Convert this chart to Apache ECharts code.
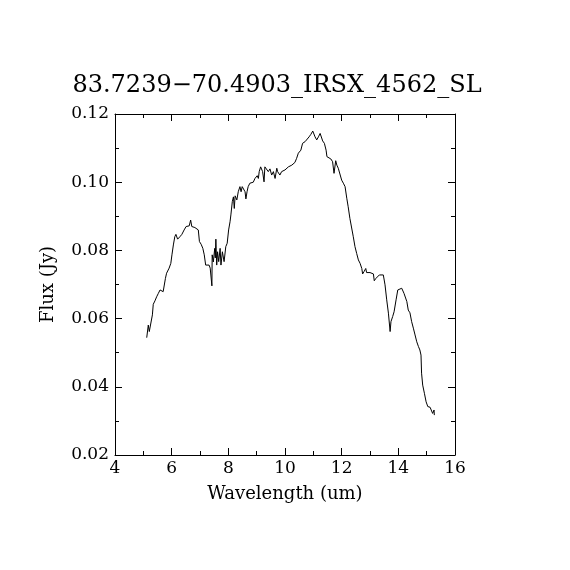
<!DOCTYPE html>
<html>
<head>
<meta charset="utf-8">
<script src="https://cdn.jsdelivr.net/npm/echarts@6/dist/echarts.min.js"></script>
<style>html,body{margin:0;padding:0;background:#fff}#c{width:570px;height:570px}</style>
</head>
<body>
<div id="c"></div>
<script>
var titleText = "83.7239\u221270.4903_IRSX_4562_SL";
var xTicks = [4, 6, 8, 10, 12, 14, 16];
var yTicks = [0.02, 0.04, 0.06, 0.08, 0.10, 0.12];
var wavelength = [5.12,5.175,5.21,5.27,5.32,5.35,5.41,5.47,5.53,5.59,5.65,5.70,5.78,5.82,5.91,5.97,6.01,6.06,6.11,6.15,6.21,6.29,6.36,6.44,6.51,6.57,6.62,6.67,6.71,6.76,6.82,6.88,6.94,6.98,7.04,7.10,7.15,7.20,7.26,7.32,7.36,7.42,7.43,7.47,7.52,7.54,7.56,7.59,7.62,7.66,7.71,7.74,7.79,7.85,7.91,7.96,8.01,8.06,8.09,8.14,8.18,8.21,8.24,8.30,8.35,8.41,8.45,8.49,8.55,8.59,8.62,8.66,8.70,8.76,8.82,8.88,8.94,8.97,9.02,9.06,9.09,9.14,9.18,9.21,9.26,9.29,9.35,9.41,9.47,9.53,9.59,9.65,9.71,9.74,9.79,9.82,9.88,10.00,10.12,10.24,10.35,10.41,10.47,10.56,10.62,10.71,10.78,10.85,10.91,10.98,11.06,11.12,11.18,11.24,11.30,11.33,11.39,11.45,11.48,11.53,11.62,11.68,11.73,11.79,11.83,11.88,11.94,12.00,12.06,12.12,12.18,12.23,12.29,12.35,12.41,12.47,12.53,12.59,12.65,12.71,12.74,12.79,12.82,12.85,12.88,12.94,13.00,13.06,13.12,13.15,13.21,13.26,13.33,13.39,13.47,13.53,13.59,13.65,13.71,13.74,13.80,13.85,13.92,13.98,14.03,14.12,14.15,14.20,14.25,14.30,14.35,14.41,14.47,14.53,14.59,14.65,14.71,14.76,14.80,14.82,14.86,14.92,14.98,15.04,15.12,15.18,15.21,15.26,15.27];
var flux = [0.0544,0.0581,0.0562,0.0567,0.0611,0.0642,0.0652,0.0664,0.0674,0.0684,0.0681,0.0679,0.0718,0.0733,0.0748,0.0762,0.0787,0.0816,0.0840,0.0847,0.0833,0.0840,0.0847,0.0860,0.0870,0.0865,0.0872,0.0889,0.0870,0.0874,0.0867,0.0870,0.0860,0.0826,0.0818,0.0806,0.0787,0.0757,0.0752,0.0757,0.0748,0.0696,0.0787,0.0766,0.0806,0.0778,0.0833,0.0757,0.0796,0.0767,0.0806,0.0757,0.0796,0.0767,0.0811,0.0821,0.0860,0.0884,0.0904,0.0943,0.0957,0.0923,0.0960,0.0948,0.0972,0.0987,0.0972,0.0987,0.0982,0.0972,0.0951,0.0972,0.0987,0.0997,0.1001,0.1000,0.1011,0.1006,0.1019,0.1011,0.1031,0.1045,0.1041,0.1031,0.1001,0.1045,0.1050,0.1031,0.1039,0.1021,0.1031,0.1011,0.1041,0.1031,0.1036,0.1021,0.1031,0.1036,0.1045,0.1050,0.1058,0.1070,0.1085,0.1094,0.1114,0.1119,0.1124,0.1133,0.1140,0.1150,0.1133,0.1124,0.1133,0.1143,0.1146,0.1121,0.1114,0.1094,0.1075,0.1070,0.1068,0.1060,0.1026,0.1063,0.1050,0.1041,0.1044,0.1006,0.0997,0.0987,0.0953,0.0928,0.0894,0.0891,0.0840,0.0811,0.0791,0.0772,0.0762,0.0747,0.0731,0.0738,0.0733,0.0747,0.0735,0.0733,0.0735,0.0733,0.0731,0.0711,0.0718,0.0721,0.0728,0.0731,0.0728,0.0699,0.0655,0.0616,0.0562,0.0591,0.0606,0.0620,0.0655,0.0684,0.0689,0.0689,0.0694,0.0674,0.0669,0.0650,0.0625,0.0617,0.0591,0.0572,0.0552,0.0532,0.0518,0.0508,0.0493,0.0440,0.0405,0.0381,0.0356,0.0342,0.0340,0.0340,0.0322,0.0332,0.0317];

var data = wavelength.map(function (w, i) { return [w, flux[i]]; });
var font = "'DejaVu Serif', 'Liberation Serif', serif";
var lineStyle = { color: '#000', width: 1 };

function axisCommon(showLabels, isY) {
  return {
    type: 'value',
    min: isY ? yTicks[0] : xTicks[0],
    max: isY ? yTicks[yTicks.length - 1] : xTicks[xTicks.length - 1],
    interval: isY ? 0.02 : 2,
    axisLine: { show: true, onZero: false, lineStyle: lineStyle },
    axisTick: { show: true, inside: true, length: 7, lineStyle: lineStyle },
    minorTick: { show: true, splitNumber: 2, length: 4, lineStyle: lineStyle },
    splitLine: { show: false },
    axisLabel: {
      show: showLabels,
      color: '#000',
      fontFamily: font,
      fontSize: 17,
      margin: isY ? 6 : 5,
      formatter: isY ? function (v) { return v.toFixed(2); } : function (v) { return String(v); }
    }
  };
}

var xBottom = axisCommon(true, false);
xBottom.position = 'bottom';
xBottom.name = 'Wavelength (um)';
xBottom.nameLocation = 'middle';
xBottom.nameGap = 30;
xBottom.nameTextStyle = { color: '#000', fontFamily: font, fontSize: 18 };
var xTop = axisCommon(false, false);
xTop.position = 'top';

var yLeft = axisCommon(true, true);
yLeft.position = 'left';
yLeft.name = 'Flux (Jy)';
yLeft.nameLocation = 'middle';
yLeft.nameGap = 58;
yLeft.nameTextStyle = { color: '#000', fontFamily: font, fontSize: 18 };
var yRight = axisCommon(false, true);
yRight.position = 'right';

var chart = echarts.init(document.getElementById('c'));
chart.setOption({
  backgroundColor: '#fff',
  animation: false,
  title: {
    text: titleText,
    left: 272,
    top: 69,
    textAlign: 'center',
    textStyle: { color: '#000', fontFamily: font, fontSize: 24, fontWeight: 'normal' }
  },
  grid: { left: 115, right: 115, top: 114, bottom: 115 },
  xAxis: [xBottom, xTop],
  yAxis: [yLeft, yRight],
  series: [{
    type: 'line',
    data: data,
    xAxisIndex: 0,
    yAxisIndex: 0,
    showSymbol: false,
    lineStyle: lineStyle,
    itemStyle: { color: '#000' }
  }]
});
</script>
</body>
</html>
